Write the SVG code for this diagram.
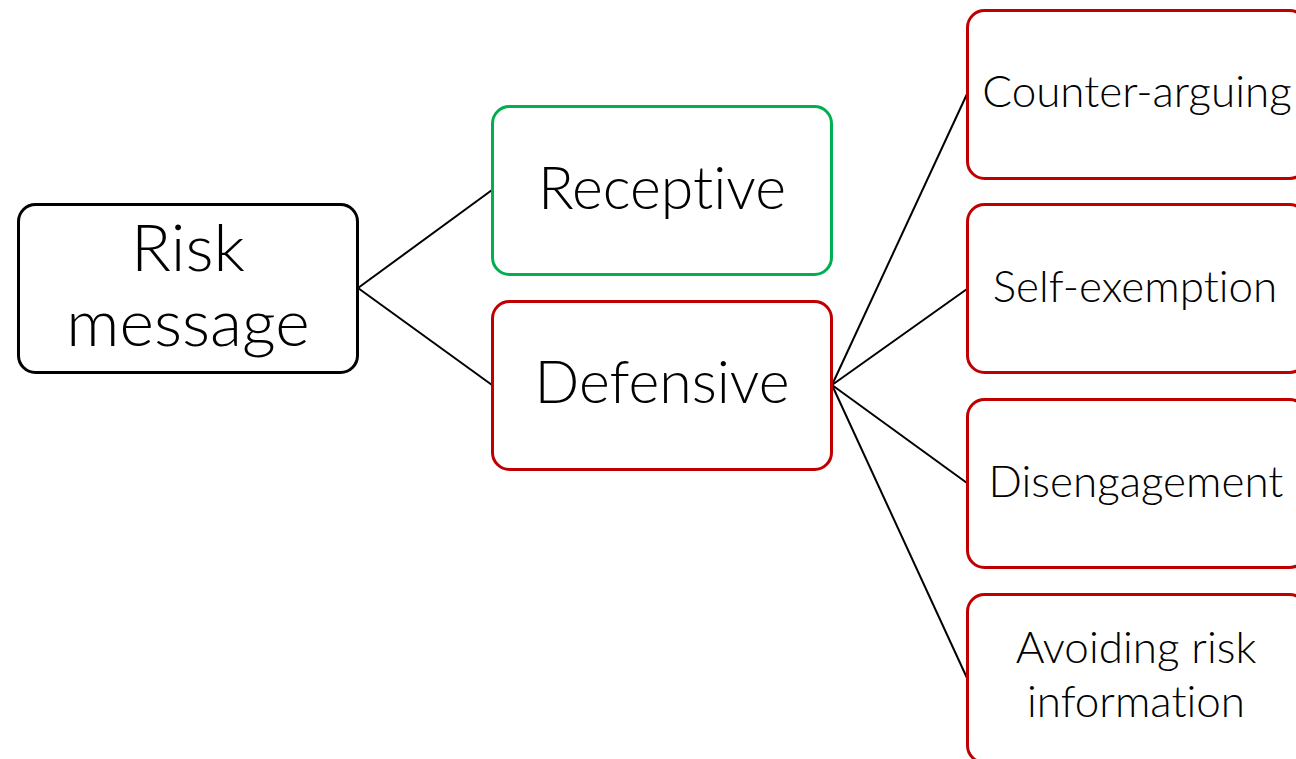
<svg xmlns="http://www.w3.org/2000/svg" width="1296" height="759" viewBox="0 0 1296 759">
  <style>
    .box { fill: #ffffff; stroke-width: 3; }
    .root { stroke: #000000; }
    .ok { stroke: #00b050; }
    .bad { stroke: #c00000; }
    .lbl { font-family: Lato, "Open Sans", "Liberation Sans", sans-serif; font-weight: 300; fill: #000000; text-anchor: middle; font-variant-ligatures: none; }
    .l1 { font-size: 66px; }
    .l2 { font-size: 59px; }
    .l3 { font-size: 44px; }
    .edge { stroke: #000000; stroke-width: 2; fill: none; }
  </style>
  <rect width="1296" height="759" fill="#ffffff"/>

  <g id="connectors">
    <line class="edge" x1="358" y1="288" x2="492" y2="190"/>
    <line class="edge" x1="358" y1="288" x2="492" y2="385"/>
    <line class="edge" x1="832" y1="385" x2="967" y2="94"/>
    <line class="edge" x1="832" y1="385" x2="967" y2="289"/>
    <line class="edge" x1="832" y1="385" x2="967" y2="483"/>
    <line class="edge" x1="832" y1="385" x2="967" y2="678"/>
  </g>

  <g id="risk-message">
    <rect class="box root" x="18.5" y="204.5" width="339" height="168" rx="17"/>
    <text class="lbl l1" x="188" y="271">Risk</text>
    <text class="lbl l1" x="188" y="346">message</text>
  </g>

  <g id="receptive">
    <rect class="box ok" x="492.5" y="106.5" width="339" height="168" rx="17"/>
    <text class="lbl l2" x="662" y="209">Receptive</text>
  </g>

  <g id="defensive">
    <rect class="box bad" x="492.5" y="301.5" width="339" height="168" rx="17"/>
    <text class="lbl l2" x="662" y="403">Defensive</text>
  </g>

  <g id="counter-arguing">
    <rect class="box bad" x="967.5" y="10.5" width="339" height="168" rx="17"/>
    <text class="lbl l3" x="1137" y="107">Counter-arguing</text>
  </g>

  <g id="self-exemption">
    <rect class="box bad" x="967.5" y="204.5" width="339" height="168" rx="17"/>
    <text class="lbl l3" x="1135" y="302">Self-exemption</text>
  </g>

  <g id="disengagement">
    <rect class="box bad" x="967.5" y="399.5" width="339" height="168" rx="17"/>
    <text class="lbl l3" x="1136" y="497">Disengagement</text>
  </g>

  <g id="avoiding-risk-information">
    <rect class="box bad" x="967.5" y="594.5" width="339" height="168" rx="17"/>
    <text class="lbl l3" x="1136" y="663">Avoiding risk</text>
    <text class="lbl l3" x="1136" y="717">information</text>
  </g>
</svg>
